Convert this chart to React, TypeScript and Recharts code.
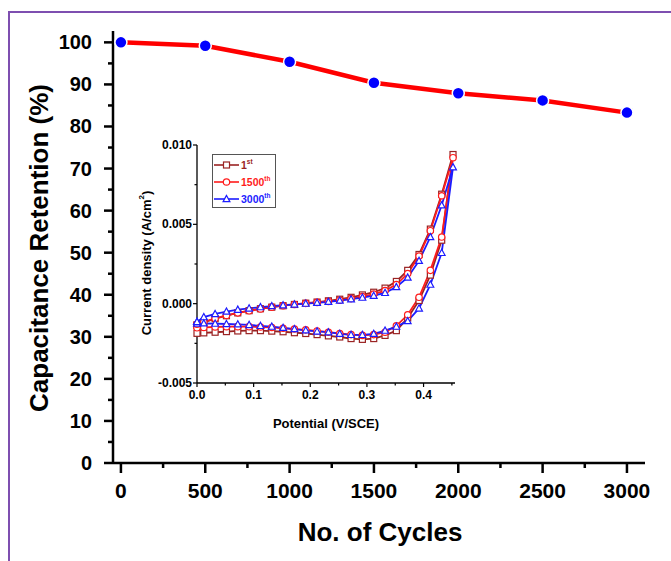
import { LineChart, Line, XAxis, YAxis, Legend } from 'recharts'

// main plot: capacitance retention vs cycle number
const CYCLES = [0, 500, 1000, 1500, 2000, 2500, 3000]
const RETENTION = [100, 99.2, 95.4, 90.4, 87.9, 86.2, 83.3]
const X_TICKS = [0, 250, 500, 750, 1000, 1250, 1500, 1750, 2000, 2250, 2500, 2750, 3000]
const Y_TICKS = [0, 5, 10, 15, 20, 25, 30, 35, 40, 45, 50, 55, 60, 65, 70, 75, 80, 85, 90, 95, 100]

// inset: CV loops (forward scan, then reverse scan)
const POTENTIAL_FWD = [
  0.0, 0.012, 0.032, 0.052, 0.072, 0.092, 0.112, 0.132, 0.152, 0.172, 0.192, 0.212, 0.232, 0.252,
  0.272, 0.292, 0.312, 0.332, 0.352, 0.372, 0.392, 0.412, 0.432, 0.452,
]
const POTENTIAL_REV = [
  0.432, 0.412, 0.392, 0.372, 0.352, 0.332, 0.312, 0.292, 0.272, 0.252, 0.232, 0.212, 0.192, 0.172,
  0.152, 0.132, 0.112, 0.092, 0.072, 0.052, 0.032, 0.012, 0.0,
]
const J_1ST_FWD = [
  -0.00135, -0.00118, -0.00095, -0.00076, -0.00058, -0.00044, -0.00032, -0.00022, -0.00013, -0.00005,
  0.00003, 0.0001, 0.00018, 0.00028, 0.0004, 0.00055, 0.00072, 0.00098, 0.0014, 0.0021, 0.0031,
  0.0047, 0.0069, 0.0094,
]
const J_1ST_REV = [
  0.004, 0.0018, 0.0002, -0.0009, -0.0017, -0.002, -0.0022, -0.00225, -0.0022, -0.0021, -0.00203,
  -0.00195, -0.00188, -0.00183, -0.00177, -0.00173, -0.0017, -0.0017, -0.00172, -0.00176, -0.0018,
  -0.00184, -0.00187,
]
const J_1500_FWD = [
  -0.0013, -0.00115, -0.00093, -0.00074, -0.00058, -0.00045, -0.00033, -0.00022, -0.00013, -0.00005,
  0.00002, 0.00008, 0.00014, 0.00022, 0.00032, 0.00045, 0.0006, 0.00082, 0.0012, 0.0019, 0.003,
  0.0046, 0.0068, 0.0092,
]
const J_1500_REV = [
  0.0042, 0.0021, 0.0004, -0.0007, -0.0014, -0.0018, -0.00195, -0.002, -0.00195, -0.00188, -0.0018,
  -0.00172, -0.00165, -0.0016, -0.00155, -0.0015, -0.00147, -0.00145, -0.00145, -0.00145, -0.00147,
  -0.0015, -0.00152,
]
const J_3000_FWD = [
  -0.00115, -0.00085, -0.00065, -0.0005, -0.00038, -0.0003, -0.00022, -0.00015, -0.0001, -0.00005,
  0.0, 0.00005, 0.00012, 0.0002, 0.00028, 0.00038, 0.0005, 0.00068, 0.00105, 0.00165, 0.0027,
  0.0042, 0.0062, 0.0086,
]
const J_3000_REV = [
  0.0032, 0.0012, -0.0003, -0.0011, -0.00145, -0.0017, -0.0019, -0.00197, -0.00197, -0.0019, -0.0018,
  -0.00175, -0.00168, -0.0016, -0.00152, -0.00145, -0.0014, -0.00134, -0.0013, -0.00128, -0.00126,
  -0.00124, -0.00125,
]
const INSET_X_TICKS = [0, 0.05, 0.1, 0.15, 0.2, 0.25, 0.3, 0.35, 0.4, 0.45]
const INSET_Y_TICKS = [-0.005, -0.0025, 0, 0.0025, 0.005, 0.0075, 0.01]

const FONT = '"Liberation Sans", Arial, sans-serif'

const mainData = CYCLES.map((c, i) => ({ cycle: c, retention: RETENTION[i] }))

function loop(fwd: number[], rev: number[]) {
  const pts = POTENTIAL_FWD.map((v, i) => ({ v, j: fwd[i] }))
  POTENTIAL_REV.forEach((v, i) => pts.push({ v, j: rev[i] }))
  pts.push(pts[0]) // close the loop
  return pts
}

const SERIES = [
  { name: '1', sup: 'st', color: '#9a2323', shape: 'square', data: loop(J_1ST_FWD, J_1ST_REV) },
  { name: '1500', sup: 'th', color: '#ff1c1c', shape: 'circle', data: loop(J_1500_FWD, J_1500_REV) },
  { name: '3000', sup: 'th', color: '#1c1cff', shape: 'triangle', data: loop(J_3000_FWD, J_3000_REV) },
]

function Marker({ cx, cy, shape, color }: any) {
  if (cx == null || cy == null) return null
  if (shape === 'square')
    return <rect x={cx - 3} y={cy - 3} width={6} height={6} fill="#fff" stroke={color} strokeWidth={1.2} />
  if (shape === 'circle') return <circle cx={cx} cy={cy} r={3.2} fill="#fff" stroke={color} strokeWidth={1.2} />
  return (
    <polygon
      points={`${cx},${cy - 3.6} ${cx - 3.4},${cy + 2.6} ${cx + 3.4},${cy + 2.6}`}
      fill="#fff"
      stroke={color}
      strokeWidth={1.2}
    />
  )
}

const MainXTick = ({ x, y, payload }: any) => {
  const major = payload.value % 500 === 0
  return (
    <g>
      <line x1={x} x2={x} y1={y} y2={y + (major ? 10 : 5)} stroke="#000" strokeWidth={2.5} />
      {major && (
        <text x={x} y={y + 35} textAnchor="middle" fontSize={21} fontWeight="bold" fontFamily={FONT} fill="#000">
          {payload.value}
        </text>
      )}
    </g>
  )
}

const MainYTick = ({ x, y, payload }: any) => {
  const major = payload.value % 10 === 0
  return (
    <g>
      <line x1={x} x2={x - (major ? 9 : 5)} y1={y} y2={y} stroke="#000" strokeWidth={2.5} />
      {major && (
        <text x={x - 21} y={y + 7} textAnchor="end" fontSize={20} fontWeight="bold" fontFamily={FONT} fill="#000">
          {payload.value}
        </text>
      )}
    </g>
  )
}

const InsetXTick = ({ x, y, payload }: any) => {
  const major = Math.round(payload.value * 100) % 10 === 0
  return (
    <g>
      <line x1={x} x2={x} y1={y} y2={y + (major ? 4 : 2.5)} stroke="#000" strokeWidth={1.2} />
      {major && (
        <text x={x} y={y + 16} textAnchor="middle" fontSize={12} fontWeight="bold" fontFamily={FONT} fill="#000">
          {payload.value.toFixed(1)}
        </text>
      )}
    </g>
  )
}

const InsetYTick = ({ x, y, payload }: any) => {
  const major = Math.round(payload.value * 10000) % 50 === 0
  return (
    <g>
      <line x1={x} x2={x - (major ? 4 : 2.5)} y1={y} y2={y} stroke="#000" strokeWidth={1.2} />
      {major && (
        <text x={x - 5} y={y + 4} textAnchor="end" fontSize={12} fontWeight="bold" fontFamily={FONT} fill="#000">
          {payload.value.toFixed(3)}
        </text>
      )}
    </g>
  )
}

function InsetLegend() {
  return (
    <svg width={64} height={54} style={{ display: 'block' }}>
      <rect x={0.5} y={0.5} width={63} height={53} fill="#fff" stroke="#555" strokeWidth={1} />
      {SERIES.map((s, i) => {
        const y = 11 + i * 17
        return (
          <g key={s.name}>
            <line x1={2} x2={27} y1={y} y2={y} stroke={s.color} strokeWidth={1.6} />
            <Marker cx={14.5} cy={y} shape={s.shape} color={s.color} />
            <text x={29} y={y + 4} fontSize={10.5} fontWeight="bold" fontFamily={FONT} fill={s.color}>
              {s.name}
              <tspan dy={-5} fontSize={6.5}>
                {s.sup}
              </tspan>
            </text>
          </g>
        )
      })}
    </svg>
  )
}

export default function App() {
  return (
    <div style={{ position: 'absolute', left: 0, top: 0, width: 671, height: 561, background: '#fff', overflow: 'hidden' }}>
      <div
        style={{
          position: 'absolute',
          left: 8,
          top: 11,
          width: 720,
          height: 620,
          border: '2px solid #7e4fb0',
        }}
      />
      <div style={{ position: 'absolute', left: 0, top: 0 }}>
        <LineChart width={671} height={561} data={mainData} margin={{ top: 31, right: 26, left: 0, bottom: 0 }}>
          <XAxis
            dataKey="cycle"
            type="number"
            domain={[-47, 3107]}
            ticks={X_TICKS}
            interval={0}
            height={98}
            tickSize={0}
            tickMargin={0}
            tickLine={false}
            axisLine={{ stroke: '#000', strokeWidth: 2.5 }}
            tick={<MainXTick />}
          />
          <XAxis xAxisId="top" orientation="top" dataKey="cycle" type="number" domain={[-47, 3107]} height={0} tick={false} tickLine={false} axisLine={{ stroke: '#000', strokeWidth: 2.5 }} />
          <YAxis
            type="number"
            domain={[0, 102.7]}
            ticks={Y_TICKS}
            interval={0}
            width={113}
            tickSize={0}
            tickMargin={0}
            tickLine={false}
            axisLine={{ stroke: '#000', strokeWidth: 2.5 }}
            tick={<MainYTick />}
          />
          <YAxis yAxisId="right" orientation="right" type="number" domain={[0, 102.7]} width={0} tick={false} tickLine={false} axisLine={{ stroke: '#000', strokeWidth: 2.5 }} />
          <Line
            dataKey="retention"
            stroke="#ff0000"
            strokeWidth={4.5}
            dot={{ r: 6, fill: '#0000ff', stroke: '#fff', strokeWidth: 1.5 }}
            isAnimationActive={false}
          />
        </LineChart>
      </div>
      <svg width={671} height={561} style={{ position: 'absolute', left: 0, top: 0, pointerEvents: 'none' }}>
        <text
          x={39}
          y={248}
          transform="rotate(-90 39 248)"
          textAnchor="middle"
          dominantBaseline="central"
          fontSize={26}
          fontWeight="bold"
          fontFamily={FONT}
          fill="#000"
        >
          Capacitance Retention (%)
        </text>
        <text x={380} y={532} textAnchor="middle" dominantBaseline="central" fontSize={26} fontWeight="bold" fontFamily={FONT} fill="#000">
          No. of Cycles
        </text>
        <text
          x={146}
          y={263}
          transform="rotate(-90 146 263)"
          textAnchor="middle"
          dominantBaseline="central"
          fontSize={13}
          fontWeight="bold"
          fontFamily={FONT}
          fill="#000"
        >
          Current density (A/cm
          <tspan dy={-5} fontSize={8}>
            2
          </tspan>
          <tspan dy={5}>)</tspan>
        </text>
        <text x={326} y={423} textAnchor="middle" dominantBaseline="central" fontSize={13} fontWeight="bold" fontFamily={FONT} fill="#000">
          Potential (V/SCE)
        </text>
      </svg>
      <div style={{ position: 'absolute', left: 130, top: 135 }}>
        <LineChart width={340} height={300} margin={{ top: 10, right: 15, left: 0, bottom: 0 }}>
          <XAxis
            dataKey="v"
            type="number"
            domain={[0, 0.4555]}
            ticks={INSET_X_TICKS}
            interval={0}
            height={52}
            tickSize={0}
            tickMargin={0}
            tickLine={false}
            axisLine={{ stroke: '#000', strokeWidth: 1.3 }}
            tick={<InsetXTick />}
            allowDuplicatedCategory={false}
          />
          <XAxis xAxisId="top" orientation="top" dataKey="v" type="number" domain={[0, 0.4555]} height={0} tick={false} tickLine={false} axisLine={{ stroke: '#000', strokeWidth: 1.3 }} />
          <YAxis
            dataKey="j"
            type="number"
            domain={[-0.005, 0.01]}
            ticks={INSET_Y_TICKS}
            interval={0}
            width={67}
            tickSize={0}
            tickMargin={0}
            tickLine={false}
            axisLine={{ stroke: '#000', strokeWidth: 1.3 }}
            tick={<InsetYTick />}
          />
          <YAxis yAxisId="right" orientation="right" type="number" domain={[-0.005, 0.01]} width={0} tick={false} tickLine={false} axisLine={{ stroke: '#000', strokeWidth: 1.3 }} />
          <Legend
            layout="horizontal"
            verticalAlign="middle"
            align="center"
            width={64}
            height={54}
            wrapperStyle={{ left: 82, top: 19, width: 64, height: 54 }}
            content={() => <InsetLegend />}
          />
          {SERIES.map((s) => (
            <Line
              key={s.name}
              name={s.name + s.sup}
              data={s.data}
              dataKey="j"
              type="linear"
              stroke={s.color}
              strokeWidth={1.8}
              dot={(p: any) => <Marker key={`${s.name}-${p.index}`} cx={p.cx} cy={p.cy} shape={s.shape} color={s.color} />}
              isAnimationActive={false}
            />
          ))}
        </LineChart>
      </div>
    </div>
  )
}
